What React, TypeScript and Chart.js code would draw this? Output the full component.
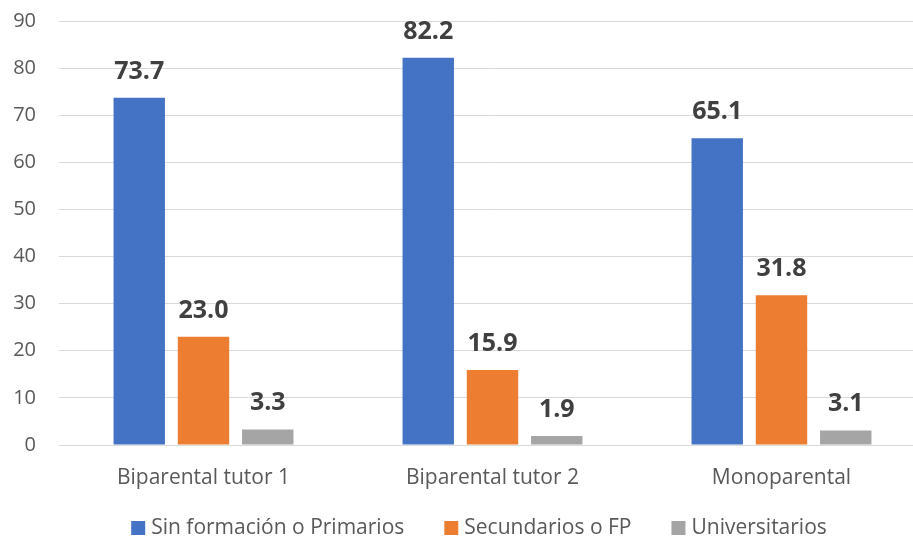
import React, { useEffect, useRef } from "react";
import { Chart, registerables } from "chart.js";

Chart.register(...registerables);

const categories = ["Biparental tutor 1", "Biparental tutor 2", "Monoparental"];
const sinFormacion = [73.7, 82.2, 65.1];
const secundarios = [23.0, 15.9, 31.8];
const universitarios = [3.3, 1.9, 3.1];
const seriesNames = ["Sin formación o Primarios", "Secundarios o FP", "Universitarios"];
const seriesColors = ["#4472C4", "#ED7D31", "#A5A5A5"];
const yMin = 0;
const yMax = 90;
const yStep = 10;

const FONT = "'Open Sans', 'Noto Sans', sans-serif";
const TEXT = "#595959";

const valueLabels = {
  id: "valueLabels",
  afterDatasetsDraw(chart: any) {
    const ctx = chart.ctx;
    ctx.save();
    ctx.font = `bold 25px ${FONT}`;
    ctx.fillStyle = "#404040";
    ctx.textAlign = "center";
    ctx.textBaseline = "alphabetic";
    chart.data.datasets.forEach((ds: any, i: number) => {
      const meta = chart.getDatasetMeta(i);
      meta.data.forEach((bar: any, j: number) => {
        const v = ds.data[j] as number;
        ctx.fillText(v.toFixed(1), bar.x, bar.y - 19);
      });
    });
    ctx.restore();
  },
};

const bottomLegend = {
  id: "bottomLegend",
  afterDraw(chart: any) {
    const ctx = chart.ctx;
    ctx.save();
    ctx.font = `21px ${FONT}`;
    ctx.textBaseline = "middle";
    ctx.textAlign = "left";
    const box = 14;
    const gap = 6;
    const spacing = 40;
    const items = chart.data.datasets.map((ds: any) => ({
      label: ds.label as string,
      color: ds.backgroundColor as string,
      w: ctx.measureText(ds.label).width,
    }));
    const total = items.reduce((s: number, it: any) => s + box + gap + it.w, 0) + spacing * (items.length - 1);
    const centerX = 479;
    const cy = 528;
    let x = centerX - total / 2;
    items.forEach((it: any) => {
      ctx.fillStyle = it.color;
      ctx.fillRect(x, cy - box / 2, box, box);
      x += box + gap;
      ctx.fillStyle = TEXT;
      ctx.fillText(it.label, x, cy);
      x += it.w + spacing;
    });
    ctx.restore();
  },
};

export default function App() {
  const ref = useRef<HTMLCanvasElement>(null);
  useEffect(() => {
    if (!ref.current) return;
    const chart = new Chart(ref.current, {
      type: "bar",
      data: {
        labels: categories,
        datasets: [
          { label: seriesNames[0], data: sinFormacion, backgroundColor: seriesColors[0] },
          { label: seriesNames[1], data: secundarios, backgroundColor: seriesColors[1] },
          { label: seriesNames[2], data: universitarios, backgroundColor: seriesColors[2] },
        ],
      },
      options: {
        responsive: false,
        animation: false,
        layout: { padding: { left: 0, top: 21, right: 0, bottom: 37 } },
        datasets: {
          bar: { categoryPercentage: 0.667, barPercentage: 0.8 },
        },
        plugins: {
          legend: { display: false },
          tooltip: { enabled: false },
        },
        scales: {
          x: {
            grid: { display: false, drawTicks: false },
            border: { display: false },
            ticks: { color: TEXT, font: { family: FONT, size: 21 }, padding: 20 },
            afterFit: (s: any) => { s.height = 58; s.paddingLeft = 0; s.paddingRight = 0; },
          },
          y: {
            min: yMin,
            max: yMax,
            grid: { color: "#D9D9D9", lineWidth: 1, drawTicks: false },
            border: { display: false },
            ticks: { stepSize: yStep, color: TEXT, font: { family: FONT, size: 20 }, padding: 23 },
            afterFit: (s: any) => { s.width = 59; s.paddingTop = 0; s.paddingBottom = 0; },
          },
        },
      },
      plugins: [valueLabels, bottomLegend],
    });
    return () => chart.destroy();
  }, []);
  return (
    <div style={{ position: "fixed", left: 0, top: 0, width: 913, height: 540, overflow: "hidden", background: "#fff" }}>
      <canvas ref={ref} width={926} height={540} />
    </div>
  );
}
